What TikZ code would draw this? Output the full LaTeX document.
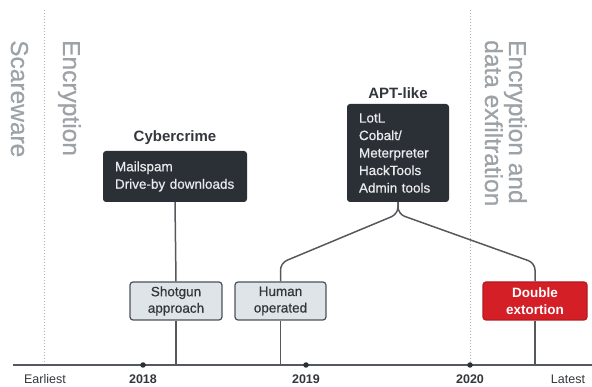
\documentclass[tikz,border=0pt]{standalone}
\usepackage{fontspec}
\setmainfont{Liberation Sans}
\newfontfamily\medium[FakeBold=0.6]{Liberation Sans}
\definecolor{eragray}{HTML}{9DA2A7}
\definecolor{dotgray}{HTML}{AEB2B6}
\definecolor{boxdark}{HTML}{2B2F36}
\definecolor{boxlight}{HTML}{DEE4E8}
\definecolor{boxedge}{HTML}{4D5258}
\definecolor{alertred}{HTML}{D41F27}
\definecolor{linegray}{HTML}{55595E}
\definecolor{textdark}{HTML}{33373C}
\definecolor{boxtext}{HTML}{E8EAEC}
\begin{document}
\begin{tikzpicture}[x=1pt,y=-1pt,
  era/.style={text=eragray, font=\medium\fontsize{24.5}{24.5}\selectfont, rotate=-90, anchor=base west, inner sep=0pt},
  divider/.style={dotgray, line width=1pt, dash pattern=on 1pt off 2pt},
  title/.style={text=textdark, font=\bfseries\fontsize{15}{15}\selectfont, inner sep=0pt},
  darkbox/.style={fill=boxdark, rounded corners=3pt, text=boxtext, align=left,
    font=\medium\fontsize{13.5}{17.5}\selectfont, inner xsep=12pt, inner ysep=0pt},
  stagebox/.style={rounded corners=3pt, align=center, line width=1.2pt,
    font=\medium\fontsize{13.5}{16.5}\selectfont, minimum height=38pt, inner sep=0pt},
  lightbox/.style={stagebox, fill=boxlight, draw=boxedge, text=textdark},
  redbox/.style={stagebox, fill=alertred, draw=alertred!85!black, text=white, font=\bfseries\fontsize{13.5}{16.5}\selectfont},
  conn/.style={linegray, line width=1.5pt},
  axisline/.style={linegray, line width=1.5pt},
  tick/.style={circle, fill=boxdark, inner sep=0pt, minimum size=5.5pt},
  axislabel/.style={text=textdark, anchor=base, inner sep=0pt, font=\fontsize{12.5}{12.5}\selectfont},
  yearlabel/.style={axislabel, font=\bfseries\fontsize{12.5}{12.5}\selectfont}]
\useasboundingbox (0,0) rectangle (592,387);

% era dividers
\draw[divider] (44,10) -- (44,365);
\draw[divider] (470,10) -- (470,365);

% era names, read top to bottom
\node[era] (scare) at (11,40) {Scareware};
\node[era] (enc) at (63,40) {Encryption};
\node[era] (encand) at (509,40) {Encryption and};
\node[era] (exfil) at (485,40) {data exfiltration};

% timeline
\coordinate (axL) at (13,365);
\coordinate (axR) at (592,365);
\draw[axisline] (axL) -- (axR);
\node[tick] (t18) at (143,365) {};
\node[tick] (t19) at (306,365) {};
\node[tick] (t20) at (470,365) {};
\node[axislabel] (lE) at (45,383.5) {Earliest};
\node[yearlabel] (l18) at (143,383.5) {2018};
\node[yearlabel] (l19) at (306,383.5) {2019};
\node[yearlabel] (l20) at (470,383.5) {2020};
\node[axislabel] (lL) at (568,383.5) {Latest};

% cybercrime tools
\node[title] (cybt) at (175,138) {Cybercrime};
\node[darkbox, minimum width=144pt, minimum height=51pt, text width=120pt] (cyb) at (175,176.5)
  {Mailspam\\Drive-by downloads};

% APT-like tools
\node[title] (aptt) at (398,93) {APT-like};
\node[darkbox, minimum width=102pt, minimum height=98pt, text width=78pt] (apt) at (398,153)
  {LotL\\Cobalt/\\Meterpreter\\HackTools\\Admin tools};

% attack styles
\node[lightbox, minimum width=92pt] (shot) at (176,301) {Shotgun\\approach};
\node[lightbox, minimum width=91pt] (human) at (280.5,301) {Human\\operated};
\node[redbox, minimum width=104pt] (dbl) at (535,301) {Double\\extortion};

% connectors
\draw[conn] (cyb.south) -- (shot.north);
\coordinate (split) at (398,214);
\coordinate (bend) at (0,263);
\draw[conn, rounded corners=7pt] (apt.south) -- (split) -- (human.north |- bend) -- (human.north);
\draw[conn, rounded corners=7pt] (apt.south) -- (split) -- (dbl.north |- bend) -- (dbl.north);

% drops to the timeline
\draw[conn] (shot.south) -- (shot.south |- axL);
\draw[conn] (human.south) -- (human.south |- axL);
\draw[conn] (dbl.south) -- (dbl.south |- axL);
\end{tikzpicture}
\end{document}
